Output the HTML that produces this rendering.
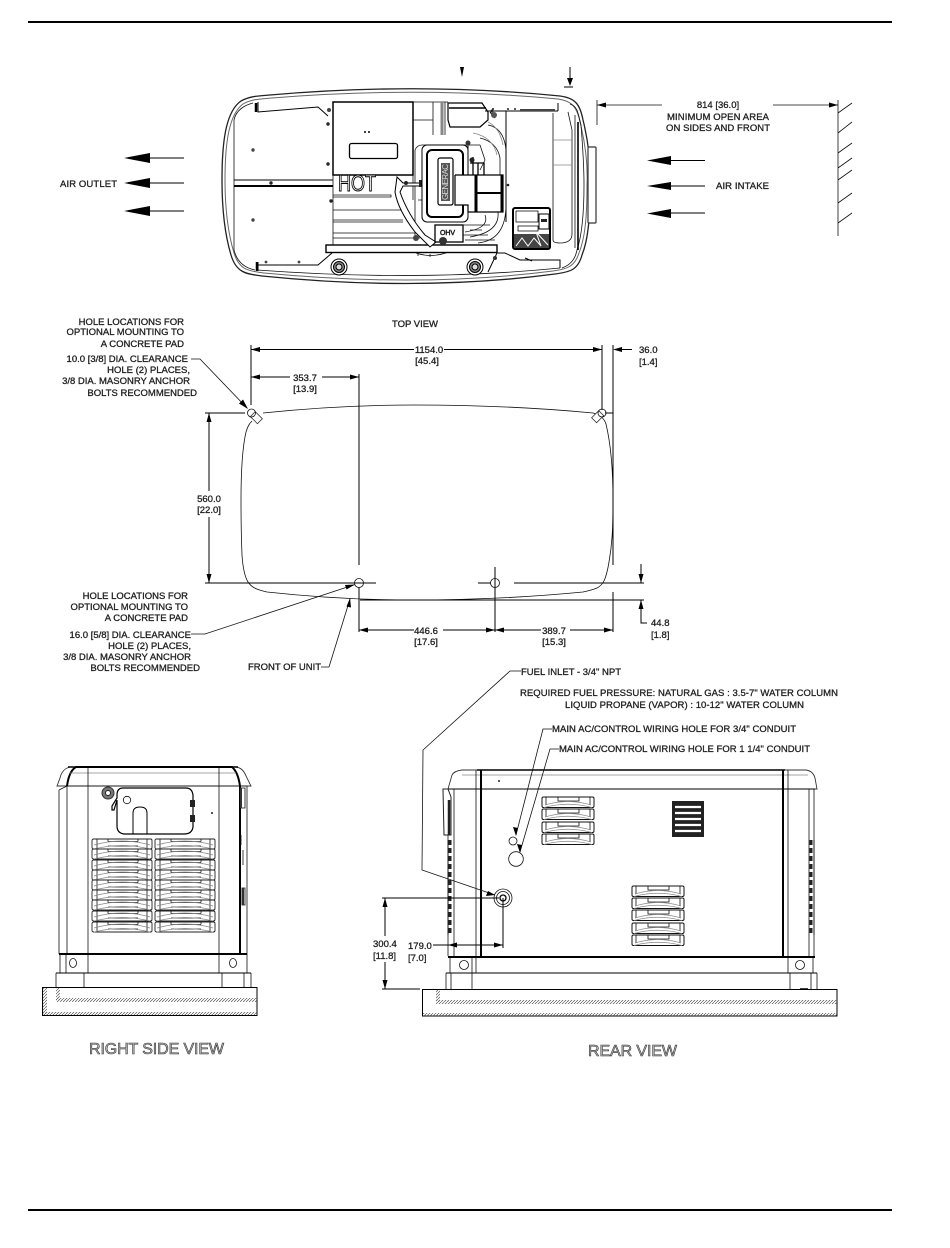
<!DOCTYPE html>
<html><head><meta charset="utf-8"><style>
html,body{margin:0;padding:0;background:#fff}
svg{display:block}
text{font-family:"Liberation Sans",sans-serif;font-size:9.5px;fill:#222;stroke:#222;stroke-width:.3}
.m{text-anchor:middle}.r{text-anchor:end}
.big{font-size:16px;fill:#bbb;stroke:#333;stroke-width:.6}
.l{fill:none;stroke:#000;stroke-width:1}
.t{fill:none;stroke:#111;stroke-width:.8}
.g{fill:none;stroke:#888;stroke-width:.8}
.k{fill:none;stroke:#000;stroke-width:2}
.a{fill:#000;stroke:none}
</style></head><body>
<svg width="950" height="1248" viewBox="0 0 950 1248" xmlns="http://www.w3.org/2000/svg">
<defs>
<pattern id="h" width="3" height="3" patternUnits="userSpaceOnUse"><path d="M0 3L3 0" stroke="#555" stroke-width=".7"/></pattern>
<g id="lv"><rect x="0" y="0" width="60" height="10" rx="1.5" fill="#fff" stroke="#222" stroke-width=".9"/><path d="M16 2.500H46M16 7H46M16 0V2.500M46 0V2.500M5 0V10M55 0V10" class="t"/><path d="M2 6Q30-2 58 6M2 10Q30 3 58 10" class="g"/></g>
<g id="lr"><rect x="0" y="0" width="52" height="10.500" rx="1.500" fill="#fff" stroke="#111" stroke-width="1"/><path d="M16 0V4H37V0M4 0V8M48 0V8M16 4H37" class="t"/><path d="M3 8Q26 1 49 8M2 10.500Q26 4 50 10.500" class="g"/></g>
</defs>
<rect x="28" y="21" width="864" height="2" fill="#000"/>
<rect x="28" y="1209" width="864" height="2" fill="#000"/>

<!-- TOP VIEW ENCLOSURE -->
<path d="M222 180C222 145 225 112 241 101C250 96 258 96 270 95Q420 82 560 96C575 98 580 104 583 120C588 140 591 160 590 185C590 220 588 240 582 255C578 270 570 272 555 274Q420 292 262 276C245 274 236 272 231 255C225 235 222 210 222 180Z" fill="none" stroke="#222" stroke-width="1.300"/>
<path d="M225 180C225 147 228 115 243 104C252 99 260 99 272 98Q420 86 558 99C572 101 577 107 580 122C585 142 588 162 587 185C587 218 585 238 579 253C575 266 568 269 553 271Q420 288 264 273C247 271 239 269 234 253C228 233 225 210 225 180Z" stroke="#666" stroke-width="1" fill="none"/>
<path d="M234 120V250M234 120C236 110 245 105 253 103M234 250C237 262 245 268 255 270M570 104C577 106 578 112 581 125C583 150 584 165 584 185C584 215 582 235 577 250C575 260 570 265 562 268M257 270Q420 282 560 268" class="t"/>
<path d="M258 102V112L318 107L328 116M258 262V271M258 265H318L332 253" class="l"/>
<path d="M256 103V112M257 262V271" stroke="#000" stroke-width="2.500" fill="none"/>
<path d="M234 180H333" class="l"/><path d="M234 186H333" stroke="#000" stroke-width="2" fill="none"/>
<circle cx="271" cy="183" r="1.700" fill="#222"/><circle cx="253" cy="150" r="1.700" fill="#444"/><circle cx="253" cy="220" r="1.700" fill="#444"/><circle cx="266" cy="262" r="1.400" fill="#444"/><circle cx="299" cy="262" r="1.400" fill="#444"/>
<circle cx="328" cy="124" r="1.700" fill="#222"/><circle cx="328" cy="164" r="1.700" fill="#222"/><circle cx="331" cy="201" r="1.700" fill="#222"/><circle cx="329" cy="110" r="2" fill="#444"/>
<rect x="333" y="102" width="80" height="73" fill="#fff" stroke="#000" stroke-width="1.500"/>
<rect x="349.500" y="143.500" width="48" height="15" rx="2" fill="#fff" stroke="#000" stroke-width="1.300"/>
<circle cx="365" cy="132" r="1" fill="#000"/><circle cx="369" cy="132" r="1" fill="#000"/>
<text x="338" y="191" style="font-size:23px;fill:#fff;stroke:#000;stroke-width:1" textLength="38" lengthAdjust="spacingAndGlyphs">HOT</text>
<path d="M333 175V245M333 195H391V197H333M333 210H403M333 220H403M333 222H403M333 233H415M333 238H420" class="t"/>
<rect x="326" y="245" width="171" height="7.500" fill="#fff" stroke="#000" stroke-width="1.400"/>
<path d="M433 102V135M442 102V135M445 102V135M413 120H433M413 102H448" class="t"/>
<path d="M442 102V135" stroke="#888" stroke-width="3" fill="none"/>
<path d="M448 103H482L488 112V120L480 127H450L448 120Z" fill="#fff" stroke="#000" stroke-width="1.200"/>
<path d="M449 108H486" stroke="#000" stroke-width="1.500" fill="none"/>
<path d="M488 125Q504 128 506 150V175M480 138Q497 142 500 158V175M468 145H480L485 160L480 170M506 205Q506 240 478 243M498 212Q500 232 470 237M485 215Q490 228 465 232" class="t"/>
<path d="M488 122Q500 128 503 145M473 133Q493 137 497 155" class="g"/>
<path d="M485 111H558M506 111V222M558 103V111M490 112L495 118" class="l"/>
<circle cx="494" cy="115" r="3" fill="#555"/><circle cx="492" cy="111" r="1.500" fill="#222"/><circle cx="508" cy="185" r="1.300" fill="#222"/>
<circle cx="493" cy="109" r="1" fill="#222"/><circle cx="508" cy="109" r="1" fill="#222"/><circle cx="515" cy="109" r="1" fill="#222"/>
<path d="M520 110H555" stroke="#444" stroke-width="2" fill="none"/>
<path d="M415 150Q417 145 422 145H468M415 150V240M413 175V200M418 200H423" class="t"/>
<path d="M397 177L403 183H420V186H403L400 192Q408 215 425 235L436 242L430 247L415 232Q398 210 395 192Z" fill="#fff" stroke="#000" stroke-width="1"/>
<circle cx="406" cy="183" r="2" fill="#222"/><rect x="419" y="180" width="5" height="7" fill="#222"/>
<path d="M468 170V145" stroke="#000" stroke-width="1" fill="none"/>
<rect x="422" y="145" width="46" height="77" rx="5" fill="#fff" stroke="#000" stroke-width="1"/>
<rect x="427" y="150" width="36" height="67" rx="5" fill="#fff" stroke="#000" stroke-width="2"/>
<rect x="438" y="158" width="15" height="47" rx="2" fill="#fff" stroke="#000" stroke-width="1.200"/>
<rect x="441" y="163" width="9" height="38" fill="#555"/>
<text transform="translate(448 200) rotate(-90)" style="font-size:8px;fill:#ddd;stroke:none" textLength="36">GENERAC</text>
<path d="M455 175H503V212H468V205H455V175" fill="#fff" stroke="#000" stroke-width="1.200"/>
<path d="M476 175V212M502 175V212" stroke="#000" stroke-width="3" fill="none"/>
<path d="M476 193H503" stroke="#000" stroke-width="2" fill="none"/>
<path d="M470 163H484V175M473 157V175M478 163V175" stroke="#000" stroke-width="1.300" fill="none"/>
<circle cx="472" cy="160" r="2.500" fill="#222"/><circle cx="468" cy="143" r="2.500" fill="#333"/>
<rect x="435" y="225" width="28" height="17" fill="#fff" stroke="#000" stroke-width="1.300"/>
<text x="440" y="235" style="font-size:7px;stroke-width:.5" textLength="15">OHV</text>
<circle cx="443" cy="241" r="4" fill="#333"/><circle cx="416" cy="238" r="3" fill="#444"/>
<path d="M463 225H490M463 235H488M470 230H482M465 240H495M416 253Q430 258 446 253M418 253V256M430 254V257" class="t"/>
<circle cx="339" cy="267" r="8" fill="#fff" stroke="#000"/><circle cx="339" cy="267" r="5.500" fill="#888" stroke="#000"/><circle cx="339" cy="267" r="3" fill="#ddd" stroke="#000"/>
<circle cx="475" cy="267" r="8" fill="#fff" stroke="#000"/><circle cx="475" cy="267" r="5.500" fill="#888" stroke="#000"/><circle cx="475" cy="267" r="3" fill="#ddd" stroke="#000"/>
<path d="M497 253L488 272M497 253H505L520 260H560V268M525 258L532 261" class="l"/><circle cx="495" cy="258" r="2" fill="#333"/>
<path d="M553 113V240Q553 243 560 243Q572 243 572 234V130L568 112" class="t"/>
<path d="M553 140H572M553 165H572" class="g"/>
<path d="M578 122V250" stroke="#000" stroke-width="1.600" fill="none"/>
<path d="M575 115V248" class="t"/>
<rect x="513" y="208" width="37" height="41" rx="2" fill="#fff" stroke="#000" stroke-width="2"/>
<rect x="516" y="211" width="22" height="11" class="t"/>
<rect x="539" y="214" width="10" height="15" fill="#fff" stroke="#000"/><rect x="541" y="219" width="6" height="3" fill="#222"/>
<rect x="518" y="226" width="20" height="5" class="t"/>
<rect x="514" y="234" width="35" height="14" fill="#444"/>
<path d="M516 246L522 238L528 246L534 238L541 246L536 232L548 245" fill="none" stroke="#fff" stroke-width="1"/>
<rect x="588" y="147" width="8" height="76" rx="1" fill="#fff" stroke="#333" stroke-width="1.200"/>

<!-- air arrows -->
<path class="l" d="M145 158H184M145 183H184M145 211H184M666 160.500H705M666 186H705M666 213H705"/>
<path class="a" d="M124 158L150 153V163ZM124 183L150 178V188ZM124 211L150 206V216ZM647 160.500L671 156V165ZM647 186L671 182V190ZM647 213.500L671 209V218Z"/>
<path class="a" d="M460 67H464L462 77Z"/>
<path class="l" d="M570 67V82M564 87H573"/><path class="a" d="M567 78H573L570 86Z"/>
<path class="t" d="M597 100V125M597 105H662M773 105H838M838 100V236M838 113L852 103M838 133L852 122M838 153L852 143M838 168L852 158M838 180L852 170M838 203L852 193M838 223L852 213"/>
<path class="a" d="M597 105L606 102.500V107.500ZM838 105L829 102.500V107.500Z"/>

<!-- FOOTPRINT -->
<path d="M263 413Q340 405 413 405Q510 405 593 413C600 415 604 418 606 424C611 445 613 470 613 500C613 530 612 545 609 562C606 580 603 585 597 588C592 590 588 591 583 592Q500 600 413 600Q340 600 267 592C258 590 252 588 248 582C245 577 243 570 242 555C241 530 241 515 241 500C241 470 243 445 246 432C248 426 249 424 252 421" class="t" stroke-width="1"/>
<g transform="rotate(45 256 418)"><rect x="251" y="414" width="10" height="7" fill="#fff" stroke="#333" stroke-width=".8"/></g>
<g transform="rotate(-45 598 417)"><rect x="593" y="413" width="10" height="7" fill="#fff" stroke="#333" stroke-width=".8"/></g>
<circle cx="251.500" cy="413" r="4" class="t"/><circle cx="602" cy="413" r="4" class="t"/>
<circle cx="359" cy="583" r="4.500" class="t"/><circle cx="495" cy="583" r="4.500" class="t"/>
<path class="l" d="M251 345V405M602 345V410M613 345V565M613 592V632M251 349.500H414M444 349.500H602M251 377H290M322 377H359M359 374V565M359 587V632M205 413H245M605 413H613M205 583H376M478 583H491M514 583H644M360 600H644M495 567V632M209 413V491M209 517V583M359 630H414M443 630H495M495 630H541M570 630H613M641 564V583M641 600V623H647M621 349.500H632"/>
<path class="a" d="M251 349.500L260 347V352ZM602 349.500L593 347V352ZM251 377L260 374.500V379.500ZM359 377L350 374.500V379.500ZM613 349.500L622 347V352ZM209 413L206.500 422H211.500ZM209 583L206.500 574H211.500ZM359 630L368 627.500V632.500ZM495 630L486 627.500V632.500ZM495 630L504 627.500V632.500ZM613 630L604 627.500V632.500ZM641 583L638.500 574H643.500ZM641 600L638.500 609H643.500Z"/>
<path class="t" d="M191 359H200L247 408M191 634H205L355 584.500M321 667H329L350 599"/>
<path class="a" d="M248 409L239 403.500L243 399.500ZM355 584.500L346.500 589.500L345 585ZM350 598L351 607.500L346.500 606.500Z"/>

<!-- SIDE VIEW -->
<path d="M57 786L60 778Q62 769 70 767H236Q243 768 246 776L251 786Z" fill="#fff" stroke="#333" stroke-width=".9"/>
<path d="M67 786Q69 771 76 767H232Q238 772 240 786" class="k" stroke-width="1.300"/>
<path d="M68 767H238" stroke="#000" stroke-width="1.600"/>
<path d="M70 773H236" class="g"/>
<path d="M59 790L67 786H247M59 790V954M67 786V954M88 768V954M219 768V954M247 786V954" class="t"/>
<path d="M240 786V954" class="k"/>
<path d="M59 954H247" class="k"/>
<path d="M60 954V973M247 954V973M56 973V987M251 973V987M66 954V973M84 973V987M88 954V973M219 954V973M222 973V987M244 973V987" class="t"/>
<path d="M56 973H251" class="l" stroke-width="1.300"/>
<ellipse cx="73" cy="963" rx="3.500" ry="4.500" class="t"/><ellipse cx="233" cy="963" rx="3.500" ry="4.500" class="t"/>
<path d="M241 788H245V808H241ZM241 835V845M243 850V865M242 888H245V905H242Z" class="t"/>
<path d="M241 788V808M243 888V905" stroke="#333" stroke-width="2" fill="none"/>
<circle cx="108" cy="793" r="6" fill="#777" stroke="#333"/><circle cx="108" cy="793" r="2.500" fill="#fff" stroke="#222"/>
<path d="M123 788H186Q192 788 193 795V827Q192 834 184 834H124Q117 833 117 826V800L114 810H112V806L117 798V795Q117 788 123 788Z" fill="#fff" stroke="#000" stroke-width="1.200"/>
<circle cx="127" cy="800" r="3.700" class="t"/>
<path d="M133 834V813Q133 807 140 807Q147 807 147 813V834" class="l"/>
<path d="M190 800H195V807H190ZM190 815H195V822H190Z" fill="#222"/>
<circle cx="212" cy="813" r="1" fill="#222"/>
<use href="#lv" x="92" y="839"/><use href="#lv" x="155" y="839"/>
<use href="#lv" x="92" y="849"/><use href="#lv" x="155" y="849"/>
<use href="#lv" x="92" y="860"/><use href="#lv" x="155" y="860"/>
<use href="#lv" x="92" y="870"/><use href="#lv" x="155" y="870"/>
<use href="#lv" x="92" y="880"/><use href="#lv" x="155" y="880"/>
<use href="#lv" x="92" y="890"/><use href="#lv" x="155" y="890"/>
<use href="#lv" x="92" y="900"/><use href="#lv" x="155" y="900"/>
<use href="#lv" x="92" y="911"/><use href="#lv" x="155" y="911"/>
<use href="#lv" x="92" y="922"/><use href="#lv" x="155" y="922"/>
<rect x="42.500" y="987.500" width="214.500" height="28" fill="#fff" stroke="#000"/>
<rect x="56" y="998" width="201" height="4" fill="url(#h)"/><rect x="43" y="1012" width="214" height="3" fill="url(#h)"/><rect x="43" y="988" width="4" height="27" fill="url(#h)"/><rect x="56" y="988" width="4" height="12" fill="url(#h)"/>

<!-- REAR VIEW -->
<path d="M448 789L452 775Q454 771 462 770H806Q813 771 815 778L817 789Z" fill="#fff" stroke="#333" stroke-width=".9"/>
<path d="M477 770H785" stroke="#000" stroke-width="1.500"/>
<path d="M462 775H808" class="g"/>
<path d="M448 789H815" class="l"/>
<path d="M448 789V956M454 789V956M476 770V956" class="t"/>
<path d="M481 770V956" class="k" stroke-width="3"/><path d="M783 770V956" class="k" stroke-width="3"/>
<path d="M788 770V956M809 789V956M814 789V956" class="t"/>
<path d="M448 957H815" class="k" stroke-width="1.600"/>
<path d="M450 957V973M813 957V973M446 973V989M817 973V989M472 957V989M790 973V989M476 957V973M788 957V973M451 973V989M811 973V989" class="t"/>
<path d="M446 973H817" class="l" stroke-width="1.300"/>
<circle cx="464" cy="965" r="4.500" class="t"/><circle cx="800" cy="965" r="4.500" class="t"/>
<circle cx="499" cy="781" r="1" fill="#222"/>
<path d="M443 789H448L451 797V835H444Z" fill="#fff" stroke="#222" stroke-width="1"/>
<path d="M449 800V835" stroke="#222" stroke-width="2.500" fill="none"/>
<path d="M450 840V935M811 840V935" stroke="#222" stroke-width="3" stroke-dasharray="5 3" fill="none"/>
<path d="M448 840V935M814 840V935" class="t"/>
<use href="#lr" x="542" y="797"/><use href="#lr" x="542" y="809"/><use href="#lr" x="542" y="822"/><use href="#lr" x="542" y="834"/>
<use href="#lr" x="632" y="886"/><use href="#lr" x="632" y="898"/><use href="#lr" x="632" y="910"/><use href="#lr" x="632" y="923"/><use href="#lr" x="632" y="935"/>
<rect x="672" y="801" width="32" height="36" fill="#222"/>
<path d="M675 807H701M675 813H701M675 819H701M675 825H701M675 831H701" stroke="#fff" stroke-width="2.200"/>
<circle cx="513" cy="841" r="4" class="t"/><circle cx="516" cy="859" r="7.300" class="t"/>
<circle cx="503" cy="898" r="9" class="t"/><circle cx="503" cy="898" r="6.500" class="t"/><circle cx="503" cy="898" r="3" fill="#fff" stroke="#000" stroke-width="1.300"/>
<path class="t" d="M521 671H510L423 750L422 870L495 895M552 729H543L516 835M559 749H550L520 852"/>
<path class="a" d="M495 895L486 896L488 891ZM516 836L513 827L518 828ZM520 853L517 844L522 845Z"/>
<path class="l" d="M382 898H499M382 989H420M385 898V936M385 962V989M433 945H503M503 898V948"/>
<path class="a" d="M385 898L382.500 907H387.500ZM385 989L382.500 980H387.500ZM448 945L457 942.500V947.500ZM503 945L494 942.500V947.500Z"/>
<rect x="422.500" y="989.500" width="414.500" height="26.500" fill="#fff" stroke="#000"/>
<rect x="436" y="1000" width="401" height="4" fill="url(#h)"/><rect x="423" y="1013" width="414" height="3" fill="url(#h)"/><rect x="436" y="990" width="4" height="12" fill="url(#h)"/>
<path d="M800 989H808" stroke="#000" stroke-width="1.500"/>

<!-- TEXT -->
<text x="718" y="108" class="m">814 [36.0]</text>
<text x="718" y="120" class="m" textLength="102">MINIMUM OPEN AREA</text>
<text x="718" y="131" class="m" textLength="104">ON SIDES AND FRONT</text>
<text x="60" y="187" textLength="57">AIR OUTLET</text>
<text x="716" y="189" textLength="53">AIR INTAKE</text>
<text x="392" y="327" textLength="46">TOP VIEW</text>
<text x="184" y="325" class="r">HOLE LOCATIONS FOR</text>
<text x="184" y="335" class="r">OPTIONAL MOUNTING TO</text>
<text x="184" y="347" class="r">A CONCRETE PAD</text>
<text x="188" y="362" class="r">10.0 [3/8] DIA. CLEARANCE</text>
<text x="190" y="373" class="r">HOLE (2) PLACES,</text>
<text x="190" y="384" class="r">3/8 DIA. MASONRY ANCHOR</text>
<text x="197" y="396" class="r">BOLTS RECOMMENDED</text>
<text x="429" y="353" class="m">1154.0</text><text x="427" y="364" class="m">[45.4]</text>
<text x="639" y="353">36.0</text><text x="639" y="365">[1.4]</text>
<text x="305" y="381" class="m">353.7</text><text x="305" y="392" class="m">[13.9]</text>
<text x="209" y="502" class="m">560.0</text><text x="209" y="513" class="m">[22.0]</text>
<text x="188" y="599" class="r">HOLE LOCATIONS FOR</text>
<text x="188" y="610" class="r">OPTIONAL MOUNTING TO</text>
<text x="188" y="621" class="r">A CONCRETE PAD</text>
<text x="191" y="638" class="r">16.0 [5/8] DIA. CLEARANCE</text>
<text x="191" y="649" class="r">HOLE (2) PLACES,</text>
<text x="191" y="660" class="r">3/8 DIA. MASONRY ANCHOR</text>
<text x="200" y="671" class="r">BOLTS RECOMMENDED</text>
<text x="248" y="670" textLength="73">FRONT OF UNIT</text>
<text x="426" y="634" class="m">446.6</text><text x="426" y="645" class="m">[17.6]</text>
<text x="554" y="634" class="m">389.7</text><text x="554" y="645" class="m">[15.3]</text>
<text x="651" y="626">44.8</text><text x="651" y="638">[1.8]</text>
<text x="521" y="675" textLength="100">FUEL INLET - 3/4" NPT</text>
<text x="520" y="696" textLength="318">REQUIRED FUEL PRESSURE: NATURAL GAS : 3.5-7" WATER COLUMN</text>
<text x="565" y="708" textLength="239">LIQUID PROPANE (VAPOR) : 10-12" WATER COLUMN</text>
<text x="552" y="732" textLength="244">MAIN AC/CONTROL WIRING HOLE FOR 3/4" CONDUIT</text>
<text x="559" y="752" textLength="251">MAIN AC/CONTROL WIRING HOLE FOR 1 1/4" CONDUIT</text>
<text x="373" y="947">300.4</text><text x="373" y="959">[11.8]</text>
<text x="408" y="949">179.0</text><text x="408" y="961">[7.0]</text>
<text x="89" y="1054" class="big" textLength="135">RIGHT SIDE VIEW</text>
<text x="588" y="1056" class="big" textLength="89">REAR VIEW</text>
</svg>
</body></html>
